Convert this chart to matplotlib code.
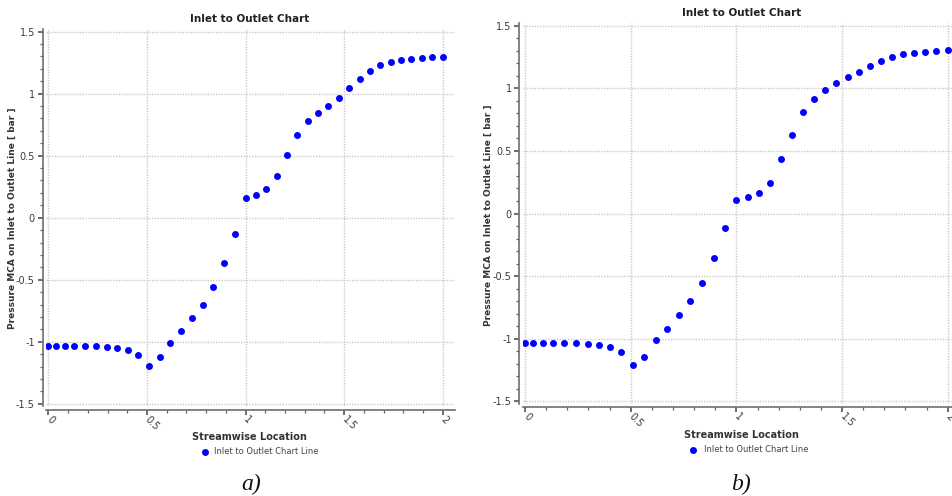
import matplotlib
matplotlib.use("Agg")
import matplotlib.pyplot as plt
from matplotlib.ticker import MultipleLocator, FuncFormatter

W, H = 953, 496

# streamwise positions shared by both cases
x = [0.000, 0.038, 0.083, 0.132, 0.185, 0.240, 0.297, 0.350, 0.403, 0.456,
     0.511, 0.565, 0.619, 0.674, 0.728, 0.782, 0.836, 0.892, 0.945, 1.000,
     1.053, 1.105, 1.157, 1.210, 1.262, 1.315, 1.368, 1.420, 1.473, 1.526,
     1.578, 1.630, 1.683, 1.736, 1.789, 1.841, 1.894, 1.946, 2.000]

# pressure [bar], case a
p_a = [-1.035, -1.035, -1.035, -1.035, -1.035, -1.035, -1.043, -1.053, -1.067, -1.107,
       -1.193, -1.126, -1.008, -0.916, -0.809, -0.704, -0.559, -0.363, -0.129, 0.156,
       0.183, 0.229, 0.334, 0.506, 0.664, 0.780, 0.844, 0.901, 0.963, 1.046,
       1.121, 1.185, 1.229, 1.258, 1.274, 1.280, 1.288, 1.293, 1.298]

# pressure [bar], case b
p_b = [-1.036, -1.036, -1.036, -1.036, -1.036, -1.036, -1.041, -1.052, -1.065, -1.108,
       -1.209, -1.143, -1.012, -0.919, -0.807, -0.698, -0.552, -0.352, -0.112, 0.109,
       0.130, 0.165, 0.247, 0.431, 0.628, 0.806, 0.915, 0.989, 1.045, 1.090,
       1.133, 1.173, 1.213, 1.245, 1.269, 1.277, 1.285, 1.293, 1.303]

title = "Inlet to Outlet Chart"
ylabel = "Pressure MCA on Inlet to Outlet Line [ bar ]"
xlabel = "Streamwise Location"
series = "Inlet to Outlet Chart Line"
captions = ["a)", "b)"]

fig = plt.figure(figsize=(W / 100, H / 100), dpi=100)


def px(xp, yp):
    return xp / W, 1 - yp / H


def make_axes(left, right, top, bottom, xlim, ylim):
    ax = fig.add_axes([left / W, 1 - bottom / H, (right - left) / W, (bottom - top) / H])
    ax.set_xlim(*xlim)
    ax.set_ylim(*ylim)
    for s in ("top", "right"):
        ax.spines[s].set_visible(False)
    for s in ("left", "bottom"):
        ax.spines[s].set_position(("outward", 2.5))
        ax.spines[s].set_color("#6e6e6e")
        ax.spines[s].set_linewidth(1.2)
    ax.xaxis.set_major_locator(MultipleLocator(0.5))
    ax.xaxis.set_minor_locator(MultipleLocator(0.1))
    ax.yaxis.set_major_locator(MultipleLocator(0.5))
    ax.yaxis.set_minor_locator(MultipleLocator(0.1))
    fmt = FuncFormatter(lambda v, _: "%g" % round(v, 2))
    ax.xaxis.set_major_formatter(fmt)
    ax.yaxis.set_major_formatter(fmt)
    ax.tick_params(which="major", length=3.5, width=1.1, color="#444444",
                   labelsize=7, labelcolor="#3a3a3a", pad=2)
    ax.tick_params(which="minor", length=2, width=0.9, color="#666666")
    for lab in ax.get_xticklabels():
        lab.set_rotation(-45)
        lab.set_ha("left")
        lab.set_va("center")
        lab.set_rotation_mode("anchor")
    ax.grid(True, which="major", color="#cacaca", linewidth=1.0,
            linestyle=(0, (1, 1)))
    ax.set_axisbelow(True)
    return ax


# left panel
ax1 = make_axes(46, 455, 29.1, 406.3, (-0.012, 2.062), (-1.52, 1.52))
ax1.plot(x, p_a, "o", color="#0000ff", ms=5, mec="none")

# right panel, runs up to the figure edge
ax2 = make_axes(522.9, 953, 23.0, 404.0, (-0.01, 2.025), (-1.52, 1.52))
ax2.plot(x, p_b, "o", color="#0000ff", ms=5, mec="none")

panels = [
    # positions in pixels: title, y label, x label, legend, caption
    dict(t=(250, 19), yl=(12, 218), xl=(249, 437.5), lm=204.7, lt=214, ly=451.5, c=(251, 484)),
    dict(t=(742, 12.5), yl=(488, 215), xl=(741, 435.5), lm=692.7, lt=704, ly=450, c=(741, 484)),
]

for i, p in enumerate(panels):
    fig.text(*px(*p["t"]), title, ha="center", va="center", fontsize=7.5,
             fontweight="bold", color="#222222")
    fig.text(*px(*p["yl"]), ylabel, ha="center", va="center", rotation=90,
             fontsize=6.5, fontweight="bold", color="#333333")
    fig.text(*px(*p["xl"]), xlabel, ha="center", va="center", fontsize=7,
             fontweight="bold", color="#333333")
    fig.lines.append(plt.Line2D([p["lm"] / W], [1 - p["ly"] / H], marker="o",
                                color="#0000ff", ms=5, mec="none",
                                transform=fig.transFigure, figure=fig))
    fig.text(*px(p["lt"], p["ly"]), series, ha="left", va="center", fontsize=6,
             color="#444444")
    fig.text(*px(*p["c"]), captions[i], ha="center", va="center", fontsize=17,
             family="Liberation Serif", style="italic", color="#111111")

fig.savefig("out.png", dpi=100)
